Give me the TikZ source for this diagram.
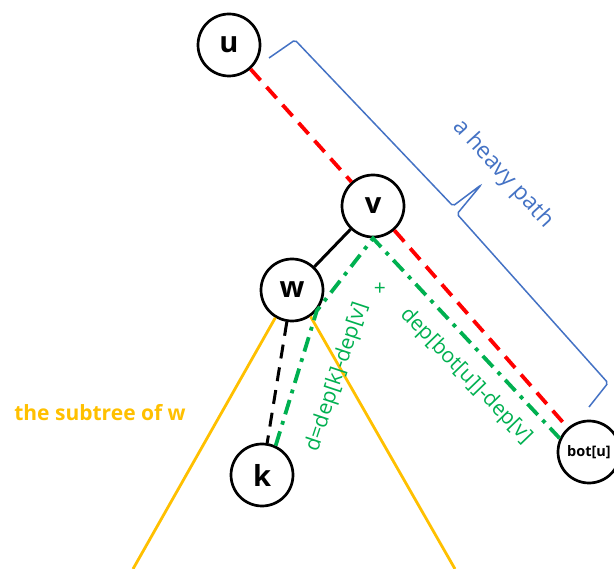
\documentclass[tikz,border=0pt]{standalone}
\usepackage{fontspec}
\setmainfont{Open Sans}
\usepackage{tikz}
\usetikzlibrary{arrows.meta}
\definecolor{heavyred}{HTML}{FF0000}
\definecolor{pathblue}{HTML}{4472C4}
\definecolor{depgreen}{HTML}{00B050}
\definecolor{subyellow}{HTML}{FFC000}

\begin{document}
\begin{tikzpicture}[x=1pt,y=-1pt,
  vert/.style={circle,draw=black,line width=2.7pt,minimum size=62pt,inner sep=0pt,fill=white,font=\fontsize{29}{29}\selectfont\bfseries},
  heavy/.style={heavyred,line width=3.8pt,dash pattern=on 15pt off 9pt},
  light/.style={black,line width=3pt},
  lightd/.style={black,line width=3pt,dash pattern=on 14pt off 9pt},
  dist/.style={depgreen,line width=3.8pt,dash pattern=on 15pt off 7pt on 3.8pt off 7pt},
  sub/.style={subyellow,line width=2.8pt},
  lbl/.style={font=\fontsize{21}{21}\selectfont,depgreen,inner sep=0pt}]
 \useasboundingbox (0,0) rectangle (614,569);
 % the tree
 \node[vert] (u) at (229,45) {u};
 \node[vert] (v) at (373,206) {v};
 \node[vert] (w) at (292,290) {w};
 \node[vert] (k) at (262,475) {k};
 \node[vert,font=\fontsize{14.5}{14.5}\selectfont\bfseries] (bot) at (589,452) {bot[u]};
 \draw[heavy] (u) -- (v);
 \draw[heavy] (v) -- (bot);
 \draw[light] (v) -- (w);
 \draw[lightd] (w) -- (k);
 % subtree of w
 \coordinate (subL) at (133,569);
 \coordinate (subR) at (455,569);
 \draw[sub] (w.-121) -- (subL);
 \draw[sub] (w.-55) -- (subR);
 \node[subyellow,font=\fontsize{21}{21}\selectfont\bfseries] (subtxt) at (100,413) {the subtree of w};
 % distances
 \draw[dist] (k.65) -- (w.-40) -- (v.south) -- (bot.155);
 \node[lbl,rotate=71.6] (dk) at (337,377) {d=dep[k]-dep[v]};
 \node[lbl] (plus) at (380,289) {+};
 \node[lbl,rotate=-46] (db) at (466,376) {dep[bot[u]]-dep[v]};
 % the heavy path brace
 \coordinate (brA) at (269,58);
 \coordinate (brB) at (295,40);
 \coordinate (brM1) at (453,206);
 \coordinate (brTip) at (481,185);
 \coordinate (brM2) at (457,214);
 \coordinate (brC) at (608,383);
 \coordinate (brD) at (589,407);
 \draw[pathblue,line width=1.5pt,rounded corners=2pt] (brA) -- (brB) -- (brM1) -- (brTip) -- (brM2) -- (brC) -- (brD);
 \node[pathblue,font=\fontsize{23}{23}\selectfont,rotate=-47.5] (hp) at (503,174) {a heavy path};
\end{tikzpicture}
\end{document}
